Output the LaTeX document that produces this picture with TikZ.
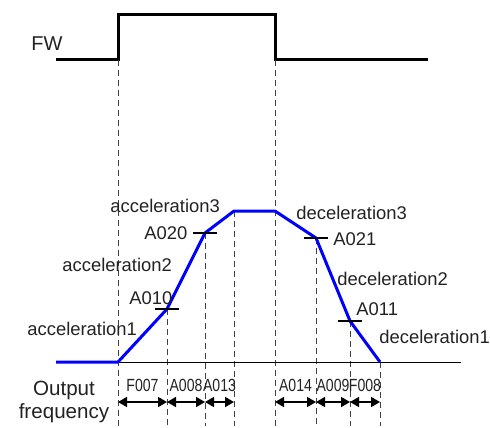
\documentclass[tikz,border=0pt]{standalone}
\usepackage{fontspec}
\setmainfont{Liberation Sans}
\newfontfamily\narrowfont[FakeStretch=0.8]{Liberation Sans}
\usepackage{tikz}
\usetikzlibrary{arrows.meta}
\definecolor{curveblue}{HTML}{0000FF}
\definecolor{txtgray}{HTML}{222222}
\tikzset{
  sig/.style={line width=1.5pt, black, line join=miter},
  freq/.style={line width=1.5pt, curveblue, line join=round},
  guide/.style={black!75, line width=0.4pt, dash pattern=on 3pt off 2pt},
  tickmark/.style={line width=0.7pt, black},
  axisline/.style={line width=0.5pt, black},
  lbl/.style={font=\fontsize{9.2}{11}\selectfont, text=txtgray, inner sep=0pt, anchor=west},
  tlbl/.style={font=\narrowfont\fontsize{8.8}{10}\selectfont, text=txtgray, inner sep=0pt},
  span/.style={{Triangle[length=4.5pt,width=5pt]}-{Triangle[length=4.5pt,width=5pt]}, line width=0.8pt},
}

\begin{document}
\begin{tikzpicture}[x=0.5pt, y=-0.5pt]
  \useasboundingbox (0,0) rectangle (490,427);
  % FW signal
  \coordinate (fw0) at (56,60);
  \coordinate (fwup) at (118,60);
  \coordinate (fwdn) at (275,60);
  \coordinate (fw1) at (428,60);
  \node[lbl, anchor=center, font=\fontsize{10}{12}\selectfont] (fw) at (47,44) {FW};
  \draw[sig] (fw0) -- (fwup) -- ++(0,-45) -|  (fwdn) -- (fw1);
  % output frequency points
  \coordinate (f0) at (56,362);
  \coordinate (f1) at (118,362);
  \coordinate (a010) at (167,309);
  \coordinate (a020) at (205,233);
  \coordinate (top1) at (234,211);
  \coordinate (top2) at (275,211);
  \coordinate (a021) at (316,238);
  \coordinate (a011) at (350,321);
  \coordinate (f2) at (380,362);
  \coordinate (axisend) at (461,362);
  \coordinate (bottom) at (0,426);
  \coordinate (row) at (0,402);
  % guides
  \foreach \p in {fwup, a010, a020, top1, fwdn, a021, a011, f2}
    \draw[guide] (\p) -- (\p |- bottom);
  \draw[axisline] (f0) -- (axisend);
  \draw[freq] (f0) -- (f1) -- (a010) -- (a020) -- (top1) -- (top2) -- (a021) -- (a011) -- (f2);
  % ticks
  \foreach \p in {a010, a020, a021, a011}
    \draw[tickmark] (\p) ++(-12,0) -- ++(24,0);
  % labels
  \node[lbl] (acc3) at (110,206) {acceleration3};
  \node[lbl] (la020) at (144,233) {A020};
  \node[lbl] (acc2) at (62,265) {acceleration2};
  \node[lbl] (la010) at (129,298) {A010};
  \node[lbl] (acc1) at (27,329) {acceleration1};
  \node[lbl] (dec3) at (296,213) {deceleration3};
  \node[lbl] (la021) at (333,239) {A021};
  \node[lbl] (dec2) at (337,279) {deceleration2};
  \node[lbl] (la011) at (356,309) {A011};
  \node[lbl] (dec1) at (379,337) {deceleration1};
  \node[font=\fontsize{10.3}{11.5}\selectfont, text=txtgray, inner sep=0pt, align=center] (out) at (64,402) {Output\\frequency};
  % time spans
  \draw[span] (fwup |- row) -- node[tlbl, above=5pt] {F007} (a010 |- row);
  \draw[span] (a010 |- row) -- node[tlbl, above=5pt] {A008} (a020 |- row);
  \draw[span] (a020 |- row) -- node[tlbl, above=5pt] {A013} (top1 |- row);
  \draw[span] (fwdn |- row) -- node[tlbl, above=5pt] {A014} (a021 |- row);
  \draw[span] (a021 |- row) -- node[tlbl, above=5pt] {A009} (a011 |- row);
  \draw[span] (a011 |- row) -- node[tlbl, above=5pt] {F008} (f2 |- row);
\end{tikzpicture}
\end{document}
